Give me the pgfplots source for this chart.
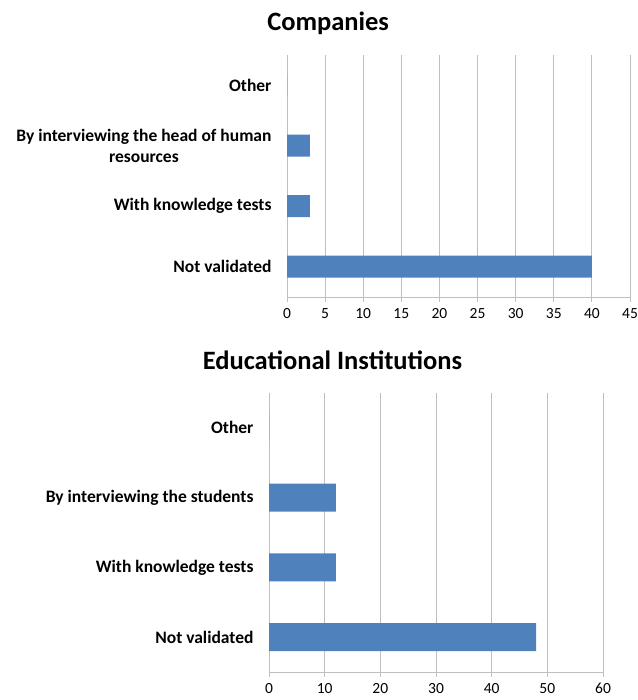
\documentclass[border=0pt]{standalone}
\usepackage{fontspec}
\setmainfont{Carlito}
\usepackage{pgfplots}
\pgfplotsset{compat=1.18}
\definecolor{barblue}{HTML}{4F81BD}
\definecolor{gridgray}{HTML}{BFBFBF}

\pgfplotsset{excelbar/.style={
  xbar, scale only axis,
  axis x line*=bottom, axis y line*=left,
  axis line style={gridgray, line width=0.8pt},
  xmajorgrids, grid style={gridgray, line width=0.8pt},
  ymin=-0.5, ymax=3.5, ytick={0,1,2,3},
  ytick style={draw=none},
  minor ytick={-0.5,0.5,1.5,2.5,3.5},
  minor y tick style={gridgray, line width=0.8pt},
  tick align=outside, major tick length=5pt, minor tick length=5pt,
  x tick style={gridgray, line width=0.8pt},
  yticklabel style={font=\bfseries\fontsize{17.5}{21}\selectfont, align=center, xshift=-7pt},
  xticklabel style={font=\fontsize{15.5}{18}\selectfont, yshift=-3pt},
  /pgf/number format/assume math mode=true,
  title style={font=\bfseries\fontsize{26.5}{30}\selectfont, anchor=center},
}}

\begin{document}
\begin{tikzpicture}
\useasboundingbox (0,0) rectangle (637pt,700pt);

% Companies
\begin{axis}[excelbar,
  at={(287pt,403pt)}, anchor=south west,
  width=343pt, height=242pt,
  xmin=0, xmax=45, xtick={0,5,...,45},
  bar width=22pt,
  yticklabels={Not validated, With knowledge tests, {By interviewing the head of human\\resources}, Other},
  title={Companies},
  title style={at={(0.12,1)}, yshift=26pt},
]
\addplot[fill=barblue, draw=none] coordinates {(40,0) (3,1) (3,2) (0,3)};
\end{axis}

% Educational Institutions
\begin{axis}[excelbar,
  at={(269pt,28pt)}, anchor=south west,
  width=334pt, height=279pt,
  xmin=0, xmax=60, xtick={0,10,...,60},
  bar width=28pt,
  yticklabels={Not validated, With knowledge tests, By interviewing the students, Other},
  title={Educational Institutions},
  title style={at={(0.19,1)}, yshift=27pt},
]
\addplot[fill=barblue, draw=none] coordinates {(48,0) (12,1) (12,2) (0,3)};
\end{axis}
\end{tikzpicture}
\end{document}
